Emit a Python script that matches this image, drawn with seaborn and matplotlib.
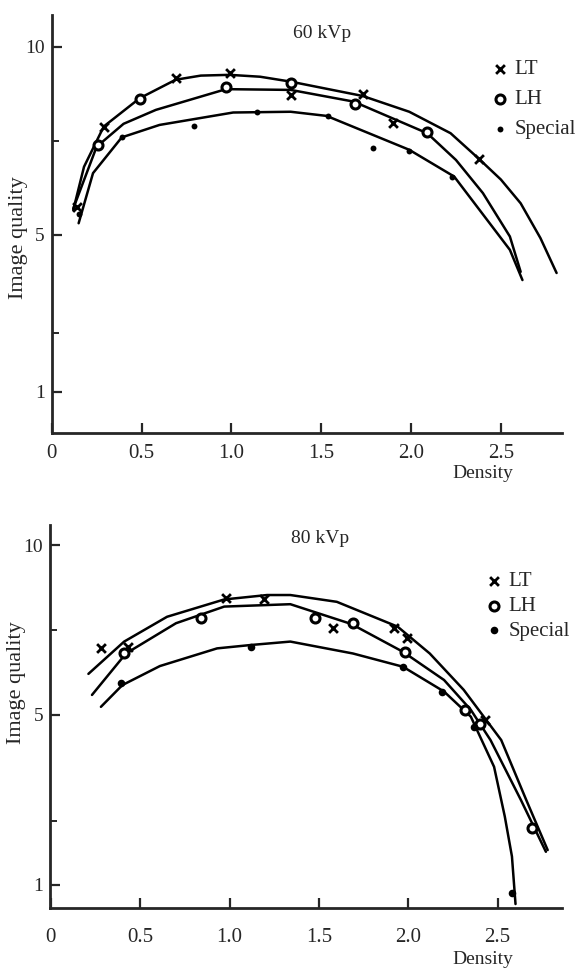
import numpy as np
import matplotlib
matplotlib.use("Agg")
import matplotlib.pyplot as plt
import seaborn as sns

sns.set_style("ticks")
plt.rcParams['font.family'] = ['Liberation Serif', 'DejaVu Serif']

# ---------------- data: 60 kVp (top panel) ----------------
top_lt_pts_d = [0.14, 0.29, 0.69, 0.99, 1.33, 1.73, 1.90, 2.38]
top_lt_pts_q = [5.75, 7.86, 9.16, 9.29, 8.72, 8.75, 7.97, 7.01]
top_lh_pts_d = [0.26, 0.49, 0.97, 1.33, 1.69, 2.09]
top_lh_pts_q = [7.39, 8.60, 8.94, 9.03, 8.48, 7.74]
top_sp_pts_d = [0.15, 0.39, 0.79, 1.14, 1.54, 1.79, 1.99, 2.23]
top_sp_pts_q = [5.55, 7.59, 7.88, 8.27, 8.16, 7.32, 7.23, 6.55]

top_lt_curve_d = [0.12, 0.18, 0.29, 0.49, 0.69, 0.83, 0.99, 1.16, 1.33, 1.73, 1.99, 2.22, 2.38, 2.50, 2.61, 2.72, 2.81]
top_lt_curve_q = [5.66, 6.81, 7.88, 8.63, 9.12, 9.23, 9.25, 9.20, 9.07, 8.69, 8.27, 7.70, 7.01, 6.47, 5.84, 4.92, 4.03]
top_lh_curve_d = [0.12, 0.25, 0.40, 0.58, 0.97, 1.33, 1.68, 2.09, 2.25, 2.40, 2.55, 2.61]
top_lh_curve_q = [5.70, 7.34, 7.95, 8.32, 8.87, 8.85, 8.54, 7.70, 6.99, 6.11, 4.96, 4.06]
top_sp_curve_d = [0.15, 0.23, 0.39, 0.60, 1.01, 1.33, 1.53, 1.99, 2.24, 2.55, 2.62]
top_sp_curve_q = [5.31, 6.64, 7.59, 7.92, 8.25, 8.27, 8.16, 7.26, 6.55, 4.62, 3.85]

# ---------------- data: 80 kVp (bottom panel) ----------------
bot_lt_pts_d = [0.28, 0.43, 0.98, 1.19, 1.58, 1.92, 1.99, 2.43]
bot_lt_pts_q = [6.96, 6.99, 8.43, 8.40, 7.55, 7.55, 7.26, 4.88]
bot_lh_pts_d = [0.41, 0.84, 1.48, 1.69, 1.98, 2.32, 2.40, 2.69]
bot_lh_pts_q = [6.83, 7.84, 7.84, 7.70, 6.86, 5.16, 4.78, 2.34]
bot_sp_pts_d = [0.39, 1.12, 1.97, 2.19, 2.37, 2.58]
bot_sp_pts_q = [5.95, 6.99, 6.42, 5.69, 4.72, 0.81]

bot_lt_curve_d = [0.21, 0.41, 0.65, 0.97, 1.21, 1.34, 1.60, 1.94, 2.12, 2.31, 2.52, 2.66, 2.78]
bot_lt_curve_q = [6.21, 7.16, 7.89, 8.40, 8.53, 8.53, 8.33, 7.60, 6.81, 5.74, 4.41, 3.00, 1.82]
bot_lh_curve_d = [0.23, 0.42, 0.70, 0.97, 1.34, 1.68, 1.97, 2.20, 2.35, 2.46, 2.63, 2.77]
bot_lh_curve_q = [5.59, 6.81, 7.70, 8.19, 8.26, 7.68, 6.86, 6.03, 5.15, 4.41, 3.00, 1.78]
bot_sp_curve_d = [0.28, 0.40, 0.61, 0.93, 1.12, 1.34, 1.69, 1.97, 2.20, 2.35, 2.48, 2.54, 2.58, 2.60]
bot_sp_curve_q = [5.24, 5.88, 6.44, 6.96, 7.06, 7.16, 6.81, 6.42, 5.69, 4.96, 3.78, 2.61, 1.67, 0.55]

x_ticks = [0, 0.5, 1.0, 1.5, 2.0, 2.5]
x_tick_labels = ["0", "0.5", "1.0", "1.5", "2.0", "2.5"]
y_ticks = [1, 5, 10]
y_minor = [2.5, 7.5]
series_labels = ["LT", "LH", "Special"]
titles = ["60 kVp", "80 kVp"]


def make_scale(r):
    def fwd(v):
        v = np.asarray(v, dtype=float)
        return np.where(v <= 5, v, 5 + (v - 5) * r)

    def inv(p):
        p = np.asarray(p, dtype=float)
        return np.where(p <= 5, p, 5 + (p - 5) / r)
    return fwd, inv


fig = plt.figure(figsize=(5.84, 9.71), dpi=100)
ax_top = fig.add_axes([0.0885, 0.5544, 0.8738, 0.4302])
ax_bot = fig.add_axes([0.0856, 0.0646, 0.8767, 0.3947])

panels = [
    dict(ax=ax_top, r=0.96, xlim=(0, 2.84), ylim=(-0.04, 10.84), title=titles[0],
         title_xy=(0.53, 0.955), leg_xy=(0.858, 0.893), leg_sp=0.5, sp_s=18, lab_y=0.468,
         xpad=8, dens_y=-0.097,
         pts=[(top_lt_pts_d, top_lt_pts_q), (top_lh_pts_d, top_lh_pts_q), (top_sp_pts_d, top_sp_pts_q)],
         curves=[(top_lt_curve_d, top_lt_curve_q), (top_lh_curve_d, top_lh_curve_q), (top_sp_curve_d, top_sp_curve_q)]),
    dict(ax=ax_bot, r=0.80, xlim=(-0.005, 2.86), ylim=(0.45, 10.59), title=titles[1],
         title_xy=(0.527, 0.966), leg_xy=(0.846, 0.878), leg_sp=0.25, sp_s=30, lab_y=0.59,
         xpad=14, dens_y=-0.134,
         pts=[(bot_lt_pts_d, bot_lt_pts_q), (bot_lh_pts_d, bot_lh_pts_q), (bot_sp_pts_d, bot_sp_pts_q)],
         curves=[(bot_lt_curve_d, bot_lt_curve_q), (bot_lh_curve_d, bot_lh_curve_q), (bot_sp_curve_d, bot_sp_curve_q)]),
]

for p in panels:
    ax = p["ax"]
    fwd, inv = make_scale(p["r"])
    ax.set_yscale("function", functions=(fwd, inv))
    for (cd, cq) in p["curves"]:
        sns.lineplot(x=cd, y=cq, ax=ax, sort=False, estimator=None, color="black",
                     linewidth=1.8, legend=False)
    (ltd, ltq), (lhd, lhq), (spd, spq) = p["pts"]
    sns.scatterplot(x=ltd, y=ltq, ax=ax, marker="x", color="black", s=40,
                    linewidth=2.0, label=series_labels[0], zorder=5)
    sns.scatterplot(x=lhd, y=lhq, ax=ax, marker="o", facecolor="white", edgecolor="black",
                    s=42, linewidth=2.2, label=series_labels[1], zorder=5)
    sns.scatterplot(x=spd, y=spq, ax=ax, marker="o", color="black", s=p["sp_s"],
                    linewidth=0, label=series_labels[2], zorder=5)

    ax.set_xlim(*p["xlim"])
    ax.set_ylim(*p["ylim"])
    ax.set_xticks(x_ticks)
    ax.set_xticklabels(x_tick_labels)
    ax.set_yticks(y_ticks)
    ax.set_yticklabels([str(t) for t in y_ticks])
    ax.set_yticks(y_minor, minor=True)
    ax.xaxis.set_minor_locator(matplotlib.ticker.NullLocator())
    ax.tick_params(axis="both", which="major", direction="in", length=7, width=1.6,
                   labelsize=14, pad=5)
    ax.tick_params(axis="x", labelsize=15, pad=p["xpad"])
    ax.tick_params(axis="y", which="minor", direction="in", length=5, width=1.4)
    sns.despine(ax=ax)
    for sp in ("left", "bottom"):
        ax.spines[sp].set_linewidth(2.0)

    ax.set_xlabel("")
    ax.set_ylabel("")
    ax.text(0.845, p["dens_y"], "Density", transform=ax.transAxes, ha="center",
            va="center", fontsize=14)
    ax.text(-0.066, p["lab_y"], "Image quality", transform=ax.transAxes, ha="center",
            va="center", rotation=90, fontsize=16)
    ax.text(p["title_xy"][0], p["title_xy"][1], p["title"], transform=ax.transAxes,
            ha="center", va="center", fontsize=14)

    ax.legend(loc="upper left", bbox_to_anchor=p["leg_xy"], frameon=False,
              handletextpad=0.2, labelspacing=p["leg_sp"], borderpad=0, borderaxespad=0,
              handlelength=1.0, fontsize=15)

fig.savefig("out.png", dpi=100)
